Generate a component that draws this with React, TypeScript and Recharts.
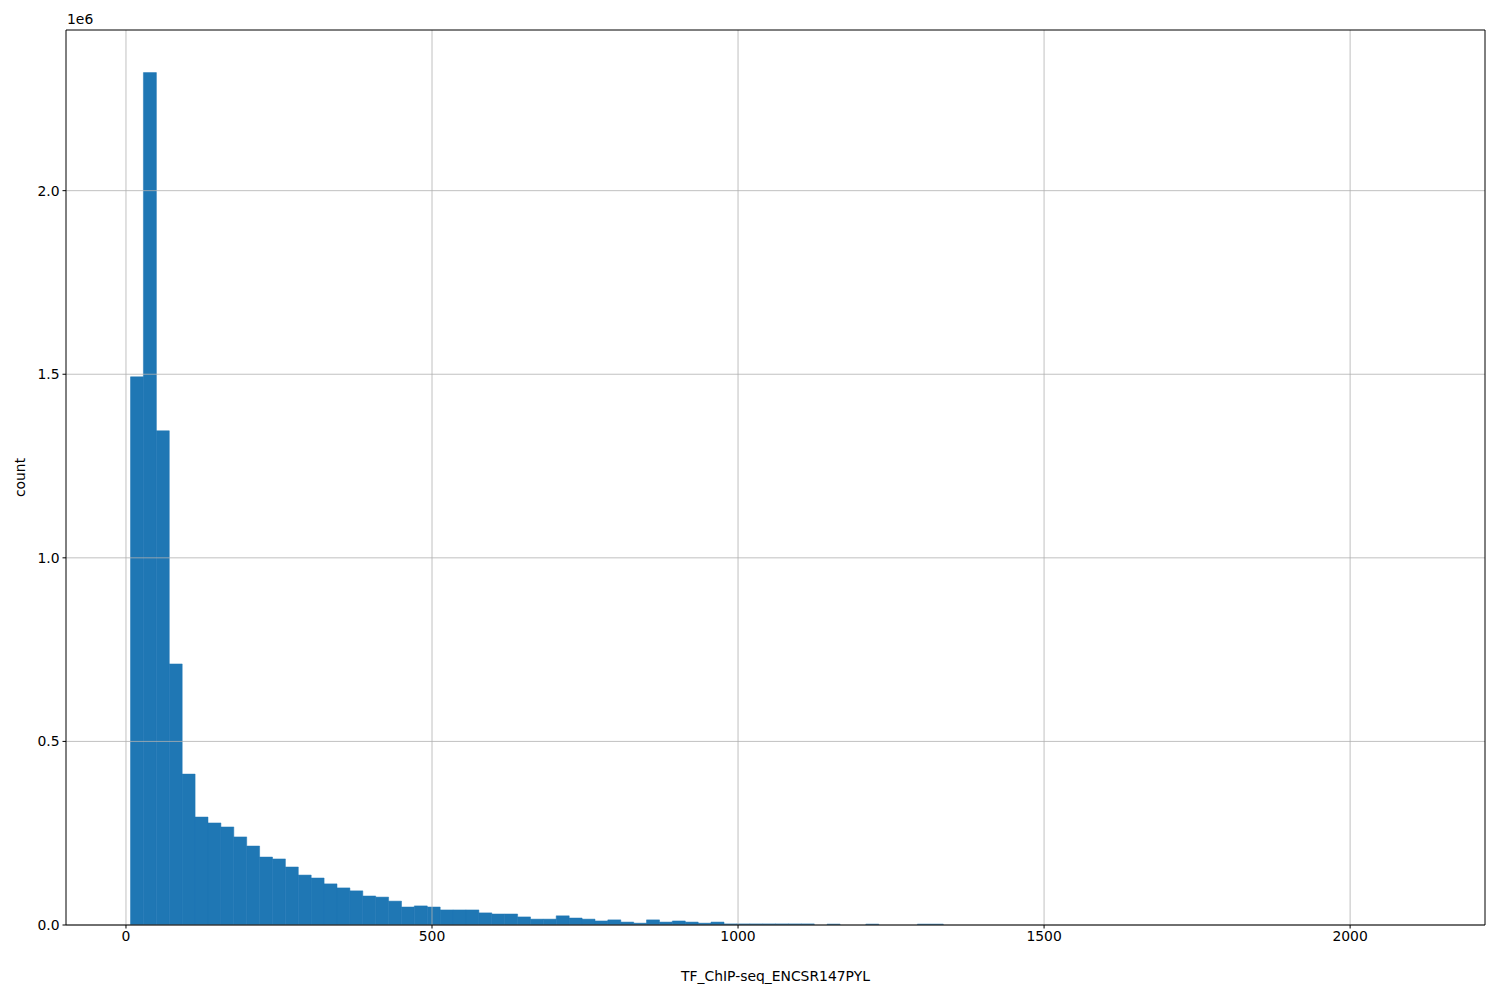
import React from 'react';
import { BarChart, Bar, XAxis, YAxis, ReferenceLine, Label } from 'recharts';

// histogram counts, 100 equal-width bins
const binCounts = [
  1493000, 2321500, 1346000, 711000, 411000, 294000, 278000, 267000, 240000, 215000,
  185000, 180000, 158000, 136000, 128000, 112000, 101000, 93000, 79000, 76000,
  65000, 49000, 52000, 49000, 41000, 41000, 41000, 33000, 30000, 30000,
  22000, 16000, 16000, 25000, 19000, 16000, 11000, 14000, 8000, 5000,
  14000, 8000, 11000, 8000, 5000, 8000, 3000, 3000, 3000, 3000,
  3000, 3000, 3000, 0, 2500, 0, 0, 2500, 0, 0,
  0, 2500, 2500, 0, 0, 0, 0, 0, 0, 0,
  0, 0, 0, 0, 0, 0, 0, 0, 0, 0,
  0, 0, 0, 0, 0, 0, 0, 0, 0, 0,
  0, 0, 0, 0, 0, 0, 0, 0, 0, 0,
];
const binStart = 7.4;
const binEnd = 2115;

const xTicks = [0, 500, 1000, 1500, 2000];
const yTicks = [0, 500000, 1000000, 1500000, 2000000];
const xTitle = 'TF_ChIP-seq_ENCSR147PYL';
const yTitle = 'count';
const yOffsetText = '1e6';

const FONT = '"DejaVu Sans", sans-serif';
const BLUE = '#1f77b4';
const GRID = '#b0b0b0';

// matplotlib-style 5% margins on both axes
const binWidth = (binEnd - binStart) / binCounts.length;
const xPad = (binEnd - binStart) * 0.05;
const xDomain = [binStart - xPad, binEnd + xPad];
const yMax = Math.max(...binCounts) * 1.05;

// empty bins -> null so no zero-height rect gets drawn
const chartData = binCounts.map((c, i) => ({
  x: binStart + (i + 0.5) * binWidth,
  count: c > 0 ? c : null,
}));

const tickStyle = { fill: '#000', fontSize: 13.9, fontFamily: FONT };

export default function App() {
  return (
    <div style={{ position: 'absolute', left: 0, top: 0, width: 1500, height: 1000, background: '#fff' }}>
      <div
        style={{
          position: 'absolute',
          left: 67,
          top: 11,
          fontFamily: FONT,
          fontSize: 13.9,
          color: '#000',
        }}
      >
        {yOffsetText}
      </div>
      <BarChart
        width={1500}
        height={1000}
        data={chartData}
        margin={{ top: 30, right: 15, bottom: 15, left: 6 }}
        barCategoryGap={0}
        barGap={0}
      >
        <XAxis
          dataKey="x"
          type="number"
          domain={xDomain}
          ticks={xTicks}
          allowDataOverflow
          height={60}
          tickSize={3.5}
          tickMargin={3}
          tick={tickStyle}
          tickLine={{ stroke: '#000' }}
          axisLine={{ stroke: '#000' }}
        >
          <Label
            value={xTitle}
            position="insideBottom"
            offset={4}
            style={{ fill: '#000', fontSize: 13.9, fontFamily: FONT }}
          />
        </XAxis>
        <YAxis
          domain={[0, yMax]}
          ticks={yTicks}
          allowDataOverflow
          width={60}
          tickSize={3.5}
          tickMargin={3}
          tick={tickStyle}
          tickLine={{ stroke: '#000' }}
          axisLine={{ stroke: '#000' }}
          tickFormatter={(v: number) => (v / 1e6).toFixed(1)}
        >
          <Label
            content={(props: any) => {
              const vb = props.viewBox || {};
              const cx = 20;
              const cy = vb.y + vb.height / 2;
              return (
                <text
                  x={cx}
                  y={cy}
                  transform={`rotate(-90 ${cx} ${cy})`}
                  textAnchor="middle"
                  dominantBaseline="central"
                  fill="#000"
                  fontSize={13.9}
                  fontFamily={FONT}
                >
                  {yTitle}
                </text>
              );
            }}
          />
        </YAxis>
        <Bar
          dataKey="count"
          fill={BLUE}
          stroke={BLUE}
          strokeWidth={0.5}
          isAnimationActive={false}
        />
        {yTicks.map((t) => (
          <ReferenceLine key={`gy${t}`} y={t} stroke={GRID} strokeWidth={0.8} />
        ))}
        {xTicks.map((t) => (
          <ReferenceLine key={`gx${t}`} x={t} stroke={GRID} strokeWidth={0.8} />
        ))}
        {/* top and right spines */}
        <ReferenceLine y={yMax} stroke="#000" strokeWidth={1} />
        <ReferenceLine x={xDomain[1]} stroke="#000" strokeWidth={1} />
      </BarChart>
    </div>
  );
}
